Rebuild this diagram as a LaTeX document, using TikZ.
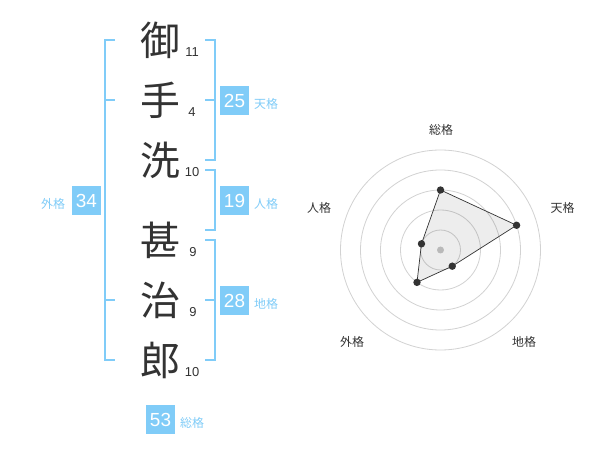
\documentclass[tikz,border=0pt]{standalone}
\usepackage{fontspec}
\setmainfont{Liberation Sans}
\newfontfamily\cjk{Noto Sans CJK JP}
\usetikzlibrary{calc}
\definecolor{kblue}{RGB}{128,204,248}
\definecolor{kdark}{RGB}{51,51,51}
\definecolor{kgrid}{RGB}{210,210,210}
\definecolor{kcenter}{RGB}{200,200,200}
\tikzset{
  kanji/.style={font=\cjk\fontsize{40}{40}\selectfont, text=kdark, inner sep=0pt},
  strokenum/.style={font=\fontsize{13}{13}\selectfont, text=kdark, inner sep=0pt},
  valbox/.style={fill=kblue, text=white, minimum size=29bp, inner sep=0pt, font=\fontsize{19}{19}\selectfont},
  vallabel/.style={text=kblue, font=\cjk\fontsize{12}{12}\selectfont, inner sep=0pt},
  bracket/.style={draw=kblue, line width=2.2bp},
  radarlabel/.style={text=kdark, font=\cjk\fontsize{12}{12}\selectfont, inner sep=0pt},
  gridcircle/.style={draw=kgrid, line width=0.8bp},
  radardot/.style={fill=kdark},
  radaredge/.style={draw=kdark, line width=0.7bp, fill=black, fill opacity=0.07}
}
\begin{document}
\begin{tikzpicture}[x=1bp,y=-1bp]
\useasboundingbox (0,0) rectangle (600,470);
\fill[white] (0,0) rectangle (600,470);

% kanji
\node[kanji] (k1) at (160,40) {御};
\node[kanji] (k2) at (160,100) {手};
\node[kanji] (k3) at (160,160) {洗};
\node[kanji] (k4) at (160,240) {甚};
\node[kanji] (k5) at (160,300) {治};
\node[kanji] (k6) at (160,360) {郎};

% stroke numbers
\node[strokenum] (n1) at (192,52.5) {11};
\node[strokenum] (n2) at (192,112.5) {4};
\node[strokenum] (n3) at (192,172.5) {10};
\node[strokenum] (n4) at (193,252.5) {9};
\node[strokenum] (n5) at (193,312.5) {9};
\node[strokenum] (n6) at (192,372.5) {10};

% outer bracket (gaikaku)
\draw[bracket] (115,40) -- (105,40) -- (105,360) -- (115,360);
\draw[bracket] (105,100) -- (115,100);
\draw[bracket] (105,300) -- (115,300);
\node[valbox] (b34) at (86.5,200.5) {34};
\node[vallabel] (l34) at (53,203.5) {外格};

% tenkaku
\draw[bracket] (205,40) -- (215,40) -- (215,160) -- (205,160);
\draw[bracket] (205,100) -- (215,100);
\node[valbox] (b25) at (234.5,100.5) {25};
\node[vallabel] (l25) at (266,103.5) {天格};

% jinkaku
\draw[bracket] (205,170) -- (215,170) -- (215,230) -- (205,230);
\node[valbox] (b19) at (234.5,200.5) {19};
\node[vallabel] (l19) at (266,203.5) {人格};

% chikaku
\draw[bracket] (205,240) -- (215,240) -- (215,360) -- (205,360);
\draw[bracket] (205,300) -- (215,300);
\node[valbox] (b28) at (234.5,300.5) {28};
\node[vallabel] (l28) at (266,303.5) {地格};

% soukaku
\node[valbox] (b53) at (160.5,419.5) {53};
\node[vallabel] (l53) at (192,422.5) {総格};

% radar chart
\coordinate (c) at (440.5,250);
\foreach \r in {20,40,60,80,100}
  \draw[gridcircle] (c) circle[radius=\r bp];
\fill[kcenter] (c) circle[radius=3.5bp];
\coordinate (ps) at ($(c)+(90:60bp)$);
\coordinate (pt) at ($(c)+(18:80bp)$);
\coordinate (pc) at ($(c)+(-54:20bp)$);
\coordinate (pg) at ($(c)+(-126:40bp)$);
\coordinate (pj) at ($(c)+(162:20bp)$);
\draw[radaredge] (ps) -- (pt) -- (pc) -- (pg) -- (pj) -- cycle;
\foreach \p in {ps,pt,pc,pg,pj}
  \fill[radardot] (\p) circle[radius=3.7bp];
\node[radarlabel] (rs) at (441,130) {総格};
\node[radarlabel] (rt) at (562.5,208) {天格};
\node[radarlabel] (rc) at (524,342) {地格};
\node[radarlabel] (rg) at (352,342) {外格};
\node[radarlabel] (rj) at (319,208) {人格};
\end{tikzpicture}
\end{document}
